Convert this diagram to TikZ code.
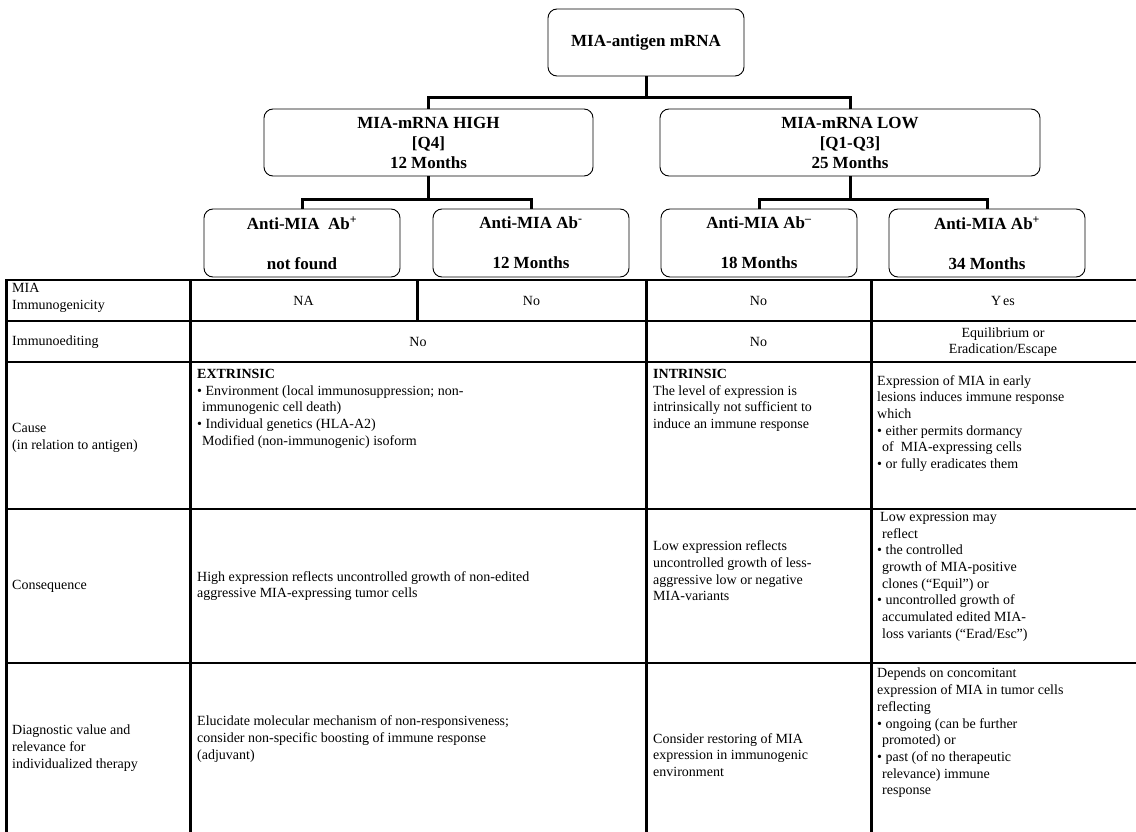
\documentclass[tikz,border=0pt]{standalone}
\usepackage{fontspec}
\setmainfont{Liberation Serif}
\newcommand\boxfont{\fontsize{17}{20}\selectfont\bfseries}
\newcommand\cellfont{\fontsize{14}{16.7}\selectfont}
\begin{document}
\begin{tikzpicture}[x=1pt,y=-1pt,
  box/.style={draw, rounded corners=9pt, line width=0.9pt, font=\boxfont, align=center, inner sep=0pt},
  conn/.style={line width=3pt},
  hgrid/.style={line width=2.4pt},
  vgrid/.style={line width=3pt},
  cell/.style={font=\cellfont, align=left, inner sep=0pt, anchor=north west},
  ctr/.style={font=\cellfont, align=center, inner sep=0pt},
]
\useasboundingbox (0,0) rectangle (1136,832);

% --- tree boxes
\node[box, minimum width=196pt, minimum height=67pt] (top) at (646,42.5) {MIA-antigen mRNA};
\node[box, minimum width=329pt, minimum height=67pt] (high) at (428.5,142.5) {MIA-mRNA HIGH\\ {[Q4]}\\ 12 Months};
\node[box, minimum width=380pt, minimum height=67pt] (low) at (850,142.5) {MIA-mRNA LOW\\ {[Q1-Q3]}\\ 25 Months};
\node[box, minimum width=196pt, minimum height=68pt] (b1) at (302,243) {Anti-MIA\ \ Ab\textsuperscript{+}\\[20pt]not found};
\node[box, minimum width=196pt, minimum height=68pt] (b2) at (531,243) {Anti-MIA Ab\textsuperscript{-}\\[20pt]12 Months};
\node[box, minimum width=196pt, minimum height=68pt] (b3) at (759,243) {Anti-MIA Ab\textsuperscript{--}\\[20pt]18 Months};
\node[box, minimum width=196pt, minimum height=68pt] (b4) at (987,243) {Anti-MIA Ab\textsuperscript{+}\\[20pt]34 Months};

% --- connectors
\draw[conn] (top.south) -- ++(0,21) coordinate (j1);
\draw[conn] (j1) -| (high.north);
\draw[conn] (j1) -| (low.north);
\draw[conn] (high.south) -- ++(0,23) coordinate (j2);
\draw[conn] (j2) -| (b1.north);
\draw[conn] (j2) -| (b2.north);
\draw[conn] (low.south) -- ++(0,23) coordinate (j3);
\draw[conn] (j3) -| (b3.north);
\draw[conn] (j3) -| (b4.north);

% --- table grid
\foreach \yy in {280,321,362,509,663} \draw[hgrid] (5,\yy) -- (1136,\yy);
\foreach \xx in {6,190,646,871} \draw[vgrid] (\xx,279) -- (\xx,832);
\draw[vgrid] (417,279) -- (417,321);

% --- row 1
\node[cell] (l1) at (12,283) {MIA\\Immunogenicity};
\node[ctr] (c12) at (303.5,300.5) {NA};
\node[ctr] (c13) at (531.5,300.5) {No};
\node[ctr] (c14) at (758.5,300.5) {No};
\node[ctr] (c15) at (1003,300.5) {Y\hspace{2pt}es};

% --- row 2
\node[cell, anchor=west] (l2) at (12,342) {Immunoediting};
\node[ctr] (c22) at (418,342) {No};
\node[ctr] (c24) at (758.5,342) {No};
\node[ctr] (c25) at (1003,342) {Equilibrium or\\Eradication/Escape};

% --- row 3
\node[cell, anchor=west] (l3) at (12,438) {Cause\\(in relation to antigen)};
\node[cell] (c32) at (197,369) {\textbf{EXTRINSIC}\\
\textbullet\ Environment (local immunosuppression; non-\\
\hspace*{5pt}immunogenic cell death)\\
\textbullet\ Individual genetics (HLA-A2)\\
\hspace*{5pt}Modified (non-immunogenic) isoform};
\node[cell] (c34) at (653,369) {\textbf{INTRINSIC}\\The level of expression is\\intrinsically not sufficient to\\induce an immune response};
\node[cell] (c35) at (877,375) {Expression of MIA in early\\lesions induces immune response\\which\\
\textbullet\ either permits dormancy\\
\hspace*{5pt}of\ \ MIA-expressing cells\\
\textbullet\ or fully eradicates them};

% --- row 4
\node[cell, anchor=west] (l4) at (12,586) {Consequence};
\node[cell, anchor=west] (c42) at (197,586) {High expression reflects uncontrolled growth of non-edited\\aggressive MIA-expressing tumor cells};
\node[cell, anchor=west] (c44) at (653,571) {Low expression reflects\\uncontrolled growth of less-\\aggressive low or negative\\MIA-variants};
\node[cell] (c45) at (877,512) {\hspace*{3pt}Low expression may\\
\hspace*{5pt}reflect\\
\textbullet\ the controlled\\
\hspace*{5pt}growth of MIA-positive\\
\hspace*{5pt}clones (“Equil”) or\\
\textbullet\ uncontrolled growth of\\
\hspace*{5pt}accumulated edited MIA-\\
\hspace*{5pt}loss variants (“Erad/Esc”)};

% --- row 5
\node[cell, anchor=west] (l5) at (12,748) {Diagnostic value and\\relevance for\\individualized therapy};
\node[cell, anchor=west] (c52) at (197,739) {Elucidate molecular mechanism of non-responsiveness;\\consider non-specific boosting of immune response\\(adjuvant)};
\node[cell, anchor=west] (c54) at (653,755) {Consider restoring of MIA\\expression in immunogenic\\environment};
\node[cell] (c55) at (877,668) {Depends on concomitant\\expression of MIA in tumor cells\\reflecting\\
\textbullet\ ongoing (can be further\\
\hspace*{5pt}promoted) or\\
\textbullet\ past (of no therapeutic\\
\hspace*{5pt}relevance) immune\\
\hspace*{5pt}response};
\end{tikzpicture}
\end{document}
